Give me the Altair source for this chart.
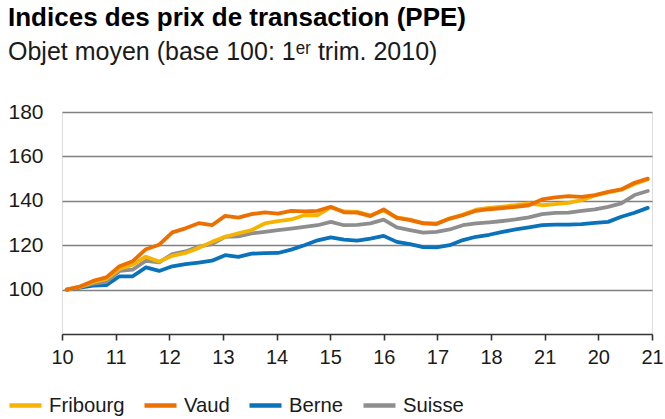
import altair as alt
import pandas as pd

# ---- data ----
quarters = [f"{2010 + k // 4}Q{k % 4 + 1}" for k in range(45)]  # 2010Q1 .. 2021Q1

fribourg = [100.0, 101.2, 103.3, 104.8, 109.3, 111.2, 114.8, 112.6, 115.2, 116.5,
            118.8, 121.5, 123.8, 125.3, 126.8, 129.8, 130.8, 131.6, 133.5, 133.5,
            137.0, 135.2, 135.0, 133.5, 135.6, 132.5, 131.5, 130.0, 129.8, 132.0,
            133.8, 136.0, 136.8, 137.4, 138.0, 138.8, 138.0, 138.5, 139.1, 140.3,
            142.4, 143.8, 145.0, 147.6, 149.6]
vaud = [100.0, 101.4, 103.9, 105.5, 110.5, 112.8, 118.2, 120.2, 125.8, 127.6,
        129.9, 129.0, 133.2, 132.4, 134.0, 134.8, 134.2, 135.5, 135.2, 135.5,
        137.3, 134.8, 134.7, 133.1, 136.1, 132.3, 131.3, 129.8, 129.5, 132.0,
        133.5, 135.5, 136.2, 136.7, 137.3, 138.0, 140.6, 141.5, 142.1, 141.8,
        142.6, 144.0, 145.1, 148.1, 150.0]
berne = [100.0, 100.9, 101.8, 102.0, 106.0, 106.0, 110.0, 108.4, 110.5, 111.5,
         112.2, 113.0, 115.5, 114.7, 116.2, 116.4, 116.5, 118.0, 120.0, 122.2,
         123.5, 122.5, 122.1, 123.0, 124.2, 121.5, 120.5, 119.1, 119.0, 120.0,
         122.3, 123.8, 124.7, 126.0, 127.1, 128.0, 129.0, 129.3, 129.3, 129.5,
         130.1, 130.5, 132.8, 134.6, 136.8]
suisse = [100.0, 101.2, 102.7, 103.5, 108.4, 109.0, 113.0, 112.3, 116.0, 117.2,
          119.4, 120.5, 123.8, 124.0, 125.3, 126.0, 126.8, 127.5, 128.3, 129.0,
          130.5, 129.0, 129.2, 129.8, 131.5, 128.0, 126.8, 125.7, 126.0, 127.1,
          129.0, 129.8, 130.3, 130.9, 131.6, 132.5, 134.0, 134.6, 134.7, 135.5,
          136.1, 137.3, 138.8, 142.6, 144.4]

series_names = ["Fribourg", "Vaud", "Berne", "Suisse"]
series_colors = ["#F6B400", "#EC7000", "#0A72BA", "#8E8E8E"]
x_labels = ["10", "11", "12", "13", "14", "15", "16", "17", "18", "21", "20", "21"]
y_ticks = [100, 120, 140, 160, 180]

# ---- table ----
rows = []
for name, vals in [("Berne", berne), ("Suisse", suisse), ("Fribourg", fribourg), ("Vaud", vaud)]:
    for q, v in zip(quarters, vals):
        year = int(q[:4])
        qn = int(q[-1])
        rows.append({"t": year + (qn - 1) / 4, "serie": name, "v": v, "trim": q})
df = pd.DataFrame(rows)

# axis frame: ticks evenly spread over the full x domain
x0, x1 = 2009.911, 2021.081
step = (x1 - x0) / (len(x_labels) - 1)
tick_vals = [x0 + k * step for k in range(len(x_labels))]
label_expr = "[" + ",".join(f"'{l}'" for l in x_labels) + f"][round((datum.value - {x0}) / {step})]"

FONT = "Liberation Sans"
TXT = "#1a1a1a"

base = alt.Chart(df)

def layer(name):
    return base.transform_filter(alt.datum.serie == name).mark_line(
        strokeWidth=3.8, strokeJoin="round", strokeCap="round"
    ).encode(
        x=alt.X("t:Q",
                scale=alt.Scale(domain=[x0, x1], nice=False, zero=False),
                axis=alt.Axis(values=tick_vals, labelExpr=label_expr, title=None, grid=False,
                              domainColor="#333333", domainWidth=1.6, tickColor="#333333",
                              tickWidth=1.6, tickSize=6, labelFontSize=20, labelPadding=7,
                              labelColor=TXT, labelFont=FONT, labelFlush=False)),
        y=alt.Y("v:Q",
                scale=alt.Scale(domain=[80, 180], nice=False, zero=False),
                axis=alt.Axis(values=y_ticks, title=None, domain=False, ticks=False, grid=True,
                              gridColor="#808080", gridWidth=1.4, labelFontSize=21,
                              labelPadding=19, labelColor=TXT, labelFont=FONT)),
        color=alt.Color("serie:N",
                        scale=alt.Scale(domain=series_names, range=series_colors),
                        legend=alt.Legend(title=None, orient="none", legendX=-55, legendY=275,
                                          direction="horizontal", symbolType="stroke",
                                          symbolSize=1024, symbolStrokeWidth=4.5,
                                          labelFontSize=20.3, labelFont=FONT, labelColor=TXT,
                                          columnPadding=10, labelOffset=5)),
    )

chart = alt.layer(
    layer("Berne"), layer("Suisse"), layer("Fribourg"), layer("Vaud")
).properties(
    width=590,
    height=222,
    autosize=alt.AutoSizeParams(type="none"),
    padding={"left": 62, "top": 112, "right": 13, "bottom": 85},
    title=alt.TitleParams(
        text="Indices des prix de transaction (PPE)",
        subtitle="Objet moyen (base 100: 1ᵉʳ trim. 2010)",
        anchor="start", frame="group", dx=-54,
        font=FONT, fontSize=26, fontWeight="bold", color="#000000",
        subtitleFont=FONT, subtitleFontSize=25, subtitleColor=TXT,
        subtitlePadding=9, offset=36,
    ),
).configure_view(stroke=None).configure(background="white")

chart.save("out.html", embed_options={"renderer": "svg", "actions": False})
